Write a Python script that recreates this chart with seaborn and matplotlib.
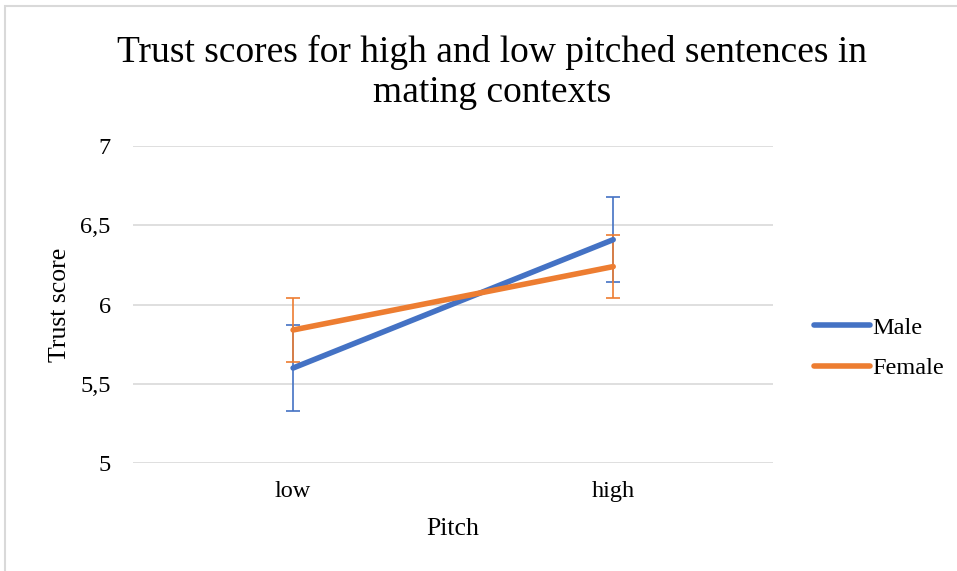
import pandas as pd
import seaborn as sns
import matplotlib.pyplot as plt
from matplotlib.patches import Rectangle
from matplotlib.ticker import FuncFormatter

# Values
pitch = ['low', 'high']
male_scores = [5.60, 6.41]
male_err = [0.27, 0.27]
female_scores = [5.84, 6.24]
female_err = [0.20, 0.20]
groups = ['Male', 'Female']
colors = {'Male': '#4472C4', 'Female': '#ED7D31'}

data = pd.DataFrame({
    'Pitch': pitch * 2,
    'Trust score': male_scores + female_scores,
    'err': male_err + female_err,
    'Group': ['Male'] * 2 + ['Female'] * 2,
})

sns.set_style('white')
plt.rcParams['font.family'] = ['Liberation Serif', 'DejaVu Serif']
plt.rcParams['text.color'] = 'black'

fig = plt.figure(figsize=(9.57, 5.71), dpi=100)
ax = fig.add_axes([0.139, 0.189, 0.669, 0.555])

# chart frame (cropped, like the screenshot)
fig.patches.append(Rectangle((5 / 957, -0.1), 1.2, 1 - 6 / 571 + 0.1, transform=fig.transFigure,
                             fill=False, edgecolor='#d9d9d9', linewidth=1.5))

sns.lineplot(data=data, x='Pitch', y='Trust score', hue='Group', hue_order=groups,
             palette=colors, linewidth=4, ax=ax, sort=False, errorbar=None, zorder=3)

x_pos = {p: i for i, p in enumerate(pitch)}
for g in groups:
    sub = data[data['Group'] == g]
    ax.errorbar([x_pos[p] for p in sub['Pitch']], sub['Trust score'], yerr=sub['err'],
                fmt='none', ecolor=colors[g], elinewidth=1.2, capsize=4.7, capthick=1.2, zorder=2)

ax.set_xlim(-0.5, 1.5)
ax.set_ylim(5, 7)
ax.set_yticks([5, 5.5, 6, 6.5, 7])
ax.yaxis.set_major_formatter(FuncFormatter(lambda v, _: f'{v:g}'.replace('.', ',')))
ax.grid(axis='y', color='#d9d9d9', linewidth=1.2)
ax.grid(axis='x', visible=False)
for s in ax.spines.values():
    s.set_visible(False)
ax.tick_params(axis='both', length=0, labelsize=17.5, labelcolor='black')
ax.tick_params(axis='y', pad=16)
ax.tick_params(axis='x', pad=13)

ax.set_xlabel('Pitch', fontsize=18.5, color='black')
ax.set_ylabel('Trust score', fontsize=18.5, color='black')
ax.xaxis.set_label_coords(0.5, -(518 - 463) / 317)
ax.yaxis.set_label_coords(-(133 - 71) / 640, (463 - 305) / 317)

fig.text(492 / 957, 1 - 72.5 / 571, 'Trust scores for high and low pitched sentences in\nmating contexts',
         ha='center', va='center', fontsize=27, linespacing=1.2)

ax.legend(loc='center left', bbox_to_anchor=(1.064, (463 - 348) / 317), frameon=False, fontsize=17.5,
          handlelength=2.3, handletextpad=0.1, labelspacing=0.75, borderaxespad=0, borderpad=0)

fig.savefig('out.png', dpi=100)
